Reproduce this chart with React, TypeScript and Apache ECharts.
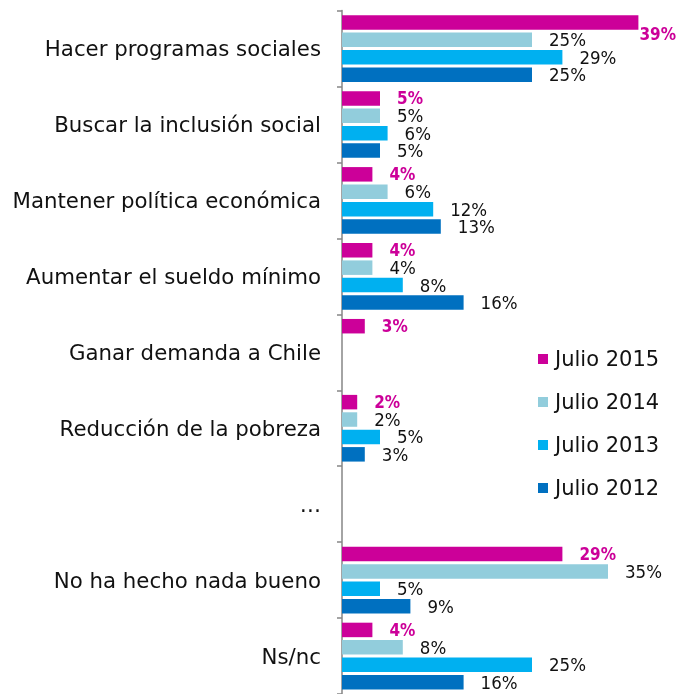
import React, { useEffect, useRef } from "react";
import * as echarts from "echarts";

const categories = [
  "Hacer programas sociales",
  "Buscar la inclusión social",
  "Mantener política económica",
  "Aumentar el sueldo mínimo",
  "Ganar demanda a Chile",
  "Reducción de la pobreza",
  "…",
  "No ha hecho nada bueno",
  "Ns/nc",
];
const seriesNames = ["Julio 2015", "Julio 2014", "Julio 2013", "Julio 2012"];
const julio2015 = [39, 5, 4, 4, 3, 2, null, 29, 4];
const julio2014 = [25, 5, 6, 4, null, 2, null, 35, 8];
const julio2013 = [29, 6, 12, 8, null, 5, null, 5, 25];
const julio2012 = [25, 5, 13, 16, null, 3, null, 9, 16];
const colors = ["#CC0099", "#92CDDC", "#00B0F0", "#0070C0"];

const FONT = "DejaVu Sans";
const LABEL_FONT = "DejaVu Sans Condensed";

export default function App() {
  const ref = useRef<HTMLDivElement>(null);
  useEffect(() => {
    if (!ref.current) return;
    const chart = echarts.init(ref.current, null, { renderer: "svg" });
    const allData = [julio2015, julio2014, julio2013, julio2012];
    chart.setOption({
      animation: false,
      textStyle: { fontFamily: FONT },
      grid: { left: 342, right: 30, top: 10.6, bottom: -4.4, containLabel: false },
      legend: {
        orient: "vertical",
        left: 533,
        top: 342,
        itemWidth: 10,
        itemHeight: 10,
        itemGap: 19,
        icon: "rect",
        textStyle: { fontSize: 21, color: "#111", fontFamily: FONT, padding: [0, 0, 0, 2], lineHeight: 24 },
        data: seriesNames,
      },
      xAxis: {
        type: "value",
        min: 0,
        max: 40,
        show: false,
      },
      yAxis: {
        type: "category",
        data: categories,
        inverse: true,
        axisLine: { show: true, lineStyle: { color: "#868686", width: 1.5 } },
        axisTick: { show: true, length: 5, lineStyle: { color: "#868686", width: 1.5 } },
        axisLabel: { fontSize: 21.3, color: "#111", margin: 21, fontFamily: FONT },
        splitLine: { show: false },
      },
      series: allData.map((d, i) => ({
        type: "bar",
        name: seriesNames[i],
        data: d,
        barWidth: 14.5,
        barGap: "20%",
        itemStyle: { color: colors[i] },
        label: {
          show: true,
          position: "right",
          distance: 17,
          formatter: "{c}%",
          fontSize: i === 0 ? 17 : 18.5,
          fontWeight: i === 0 ? "bold" : "normal",
          color: i === 0 ? colors[0] : "#111",
          fontFamily: LABEL_FONT,
        },
        labelLayout: (params: any) => {
          const r = params.labelRect;
          if (r.x + r.width > 676) return { x: 676 - r.width, y: r.y + r.height / 2 + 3 };
          return {};
        },
      })),
    });
    return () => chart.dispose();
  }, []);
  return (
    <div
      ref={ref}
      style={{ position: "fixed", left: 0, top: 0, width: 676, height: 694 }}
    />
  );
}
